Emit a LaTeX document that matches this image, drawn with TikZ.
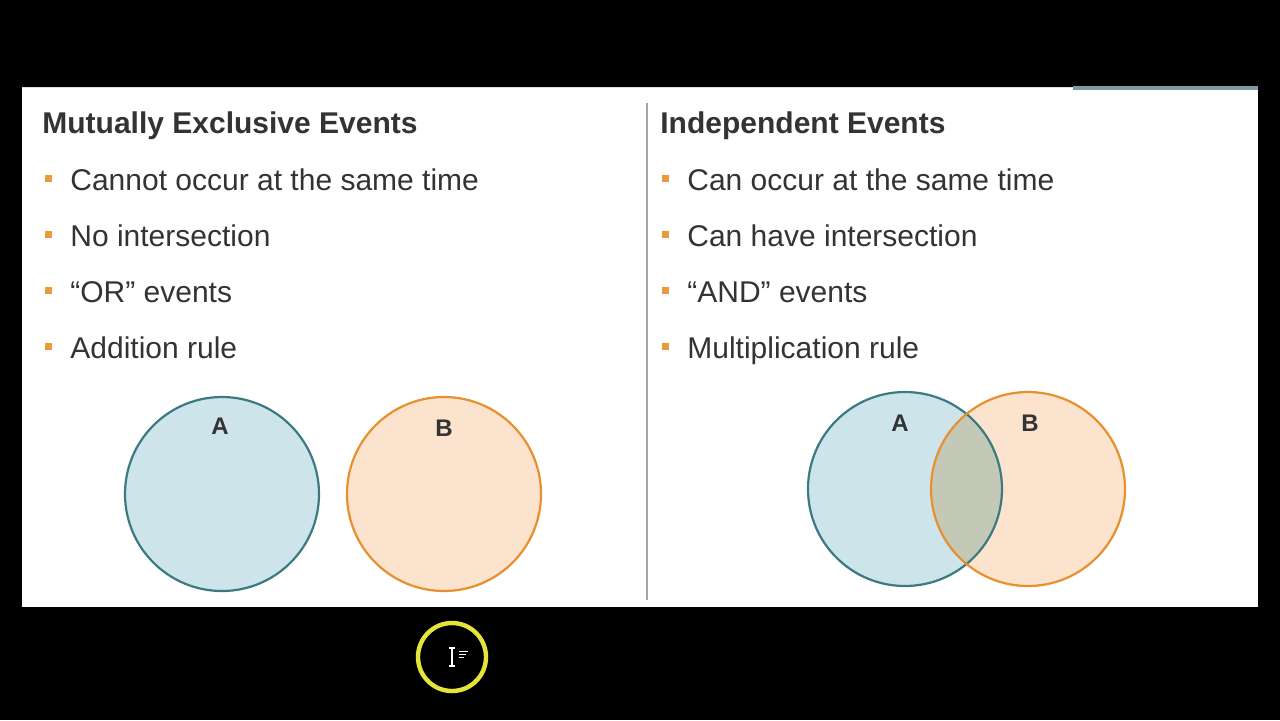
\documentclass[tikz,border=0pt]{standalone}
\usepackage{fontspec}
\setmainfont{Liberation Sans}
\usepackage{xcolor}
\usetikzlibrary{positioning}
\definecolor{txtgray}{HTML}{333333}
\definecolor{bulorange}{HTML}{E89A3C}
\definecolor{evAfill}{HTML}{CDE4EB}
\definecolor{evAedge}{HTML}{3B7A80}
\definecolor{evBfill}{HTML}{FCE3CE}
\definecolor{evBedge}{HTML}{E8902E}
\definecolor{evAB}{HTML}{C4C8B6}
\definecolor{cursorY}{HTML}{E4E43A}
\tikzset{
  head/.style  ={anchor=base west, inner sep=0pt, font=\fontsize{15}{18}\selectfont\bfseries,
                 text=txtgray},
  item/.style  ={anchor=base west, inner sep=0pt, font=\fontsize{15}{18}\selectfont,
                 text=txtgray},
  bul/.style   ={fill=bulorange, minimum size=3.5pt, inner sep=0pt},
  setlbl/.style={font=\fontsize{12}{14}\selectfont\bfseries, text=txtgray},
  setA/.style  ={draw=evAedge, line width=1.1pt},
  setB/.style  ={draw=evBedge, line width=1.1pt},
}
\begin{document}
\begin{tikzpicture}[x=0.5pt, y=-0.5pt]
  \useasboundingbox (0,0) rectangle (1280,720);
  \fill[black] (0,0) rectangle (1280,720);
  % slide
  \fill[white] (22,87) rectangle (1258,607);
  \draw[black!12, line width=0.6pt] (22,87.5) -- (1073,87.5);
  \draw[evAedge!70!black!60, line width=1.6pt] (1073,88) -- (1258,88);
  \draw[black!35, line width=0.8pt] (647,103) -- (647,600);

  % left column
  \node[head] (mxhead) at (42,133) {Mutually Exclusive Events};
  \node[item] (mx1) at (70,190) {Cannot occur at the same time};
  \node[item] (mx2) at (70,246) {No intersection};
  \node[item] (mx3) at (70,302) {“OR” events};
  \node[item] (mx4) at (70,358) {Addition rule};
  \foreach \y in {178,234,290,346}
    \node[bul] at (48,\y) {};

  % right column
  \node[head] (inhead) at (660,133) {Independent Events};
  \node[item] (in1) at (687,190) {Can occur at the same time};
  \node[item] (in2) at (687,246) {Can have intersection};
  \node[item] (in3) at (687,302) {“AND” events};
  \node[item] (in4) at (687,358) {Multiplication rule};
  \foreach \y in {178,234,290,346}
    \node[bul] at (665,\y) {};

  % disjoint sets
  \fill[evAfill] (222,494) circle (97);
  \fill[evBfill] (444,494) circle (97);
  \draw[setA] (222,494) circle (97);
  \draw[setB] (444,494) circle (97);
  \node[setlbl] (mxA) at (220,426) {A};
  \node[setlbl] (mxB) at (444,428) {B};

  % overlapping sets
  \fill[evAfill] (905,489) circle (97);
  \fill[evBfill] (1028,489) circle (97);
  \begin{scope}
    \clip (905,489) circle (97);
    \fill[evAB] (1028,489) circle (97);
  \end{scope}
  \draw[setA] (905,489) circle (97);
  \draw[setB] (1028,489) circle (97);
  \node[setlbl] (inA) at (900,423) {A};
  \node[setlbl] (inB) at (1030,423) {B};

  % pointer highlight
  \draw[cursorY, line width=2.2pt] (452,657) circle (34);
  \draw[white, line width=0.6pt] (452,648) -- (452,666)
    (449,648) -- (455,648) (449,666) -- (455,666);
  \foreach \y/\w in {651/9,654/7,657/5}
    \draw[white, line width=0.5pt] (459,\y) -- ++(\w,0);
\end{tikzpicture}
\end{document}
